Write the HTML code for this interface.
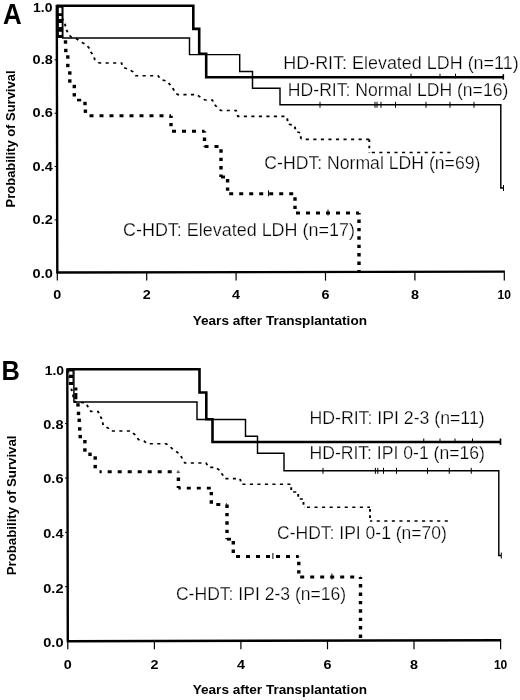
<!DOCTYPE html><html><head><meta charset="utf-8"><title>Survival curves</title><style>html,body{margin:0;padding:0;background:#fff;}svg{display:block;will-change:transform;}text{font-family:"Liberation Sans",sans-serif;fill:#000;}.b{font-weight:bold;}.r{stroke:#fff;stroke-width:0.25px;}</style></head><body><svg width="520" height="700" viewBox="0 0 520 700"><rect width="520" height="700" fill="#fff"/><path d="M56.8 4.7 L57.3 273.6 L57.3 272.5 L504.90000000000003 271.6" fill="none" stroke="#000" stroke-width="2.4" stroke-linejoin="miter"/><line x1="54.5" y1="59.8" x2="57.3" y2="59.8" stroke="#000" stroke-width="1"/><line x1="54.5" y1="113.2" x2="57.3" y2="113.2" stroke="#000" stroke-width="1"/><line x1="54.5" y1="166.5" x2="57.3" y2="166.5" stroke="#000" stroke-width="1"/><line x1="54.5" y1="219.9" x2="57.3" y2="219.9" stroke="#000" stroke-width="1"/><line x1="57.3" y1="272.3" x2="57.3" y2="280.6" stroke="#000" stroke-width="1.2"/><line x1="146.7" y1="272.3" x2="146.7" y2="280.6" stroke="#000" stroke-width="1.2"/><line x1="236.1" y1="272.3" x2="236.1" y2="280.6" stroke="#000" stroke-width="1.2"/><line x1="325.5" y1="272.3" x2="325.5" y2="280.6" stroke="#000" stroke-width="1.2"/><line x1="414.9" y1="272.3" x2="414.9" y2="280.6" stroke="#000" stroke-width="1.2"/><line x1="504.3" y1="272.3" x2="504.3" y2="280.6" stroke="#000" stroke-width="1.2"/><text class="b" x="52.4" y="11.5" font-size="12" text-anchor="end" textLength="19.4" lengthAdjust="spacingAndGlyphs">1.0</text><text class="b" x="52.8" y="64.1" font-size="12" text-anchor="end" textLength="20.2" lengthAdjust="spacingAndGlyphs">0.8</text><text class="b" x="52.8" y="117.4" font-size="12" text-anchor="end" textLength="20.2" lengthAdjust="spacingAndGlyphs">0.6</text><text class="b" x="52.8" y="170.7" font-size="12" text-anchor="end" textLength="20.2" lengthAdjust="spacingAndGlyphs">0.4</text><text class="b" x="52.8" y="224" font-size="12" text-anchor="end" textLength="20.2" lengthAdjust="spacingAndGlyphs">0.2</text><text class="b" x="52.8" y="277.7" font-size="12" text-anchor="end" textLength="20.2" lengthAdjust="spacingAndGlyphs">0.0</text><text class="b" x="57.3" y="299" font-size="12" text-anchor="middle" textLength="8" lengthAdjust="spacingAndGlyphs">0</text><text class="b" x="146.7" y="299" font-size="12" text-anchor="middle" textLength="8" lengthAdjust="spacingAndGlyphs">2</text><text class="b" x="236.1" y="299" font-size="12" text-anchor="middle" textLength="8" lengthAdjust="spacingAndGlyphs">4</text><text class="b" x="325.5" y="299" font-size="12" text-anchor="middle" textLength="8" lengthAdjust="spacingAndGlyphs">6</text><text class="b" x="414.9" y="299" font-size="12" text-anchor="middle" textLength="8" lengthAdjust="spacingAndGlyphs">8</text><text class="b" x="504.3" y="299" font-size="12" text-anchor="middle">10</text><text class="b" x="192.7" y="325" font-size="13.4" textLength="174.3" lengthAdjust="spacingAndGlyphs">Years after Transplantation</text><text class="b" transform="translate(14.8,207.4) rotate(-90)" x="0" y="0" font-size="13" textLength="136.9" lengthAdjust="spacingAndGlyphs">Probability of Survival</text><text class="b" transform="translate(3.0,23.6) scale(0.893,1)" font-size="29">A</text><path d="M67.3 368.3 L67.8 642.3 L67.8 641.2 L501.20000000000005 640.3" fill="none" stroke="#000" stroke-width="2.4" stroke-linejoin="miter"/><line x1="65.0" y1="423.6" x2="67.8" y2="423.6" stroke="#000" stroke-width="1"/><line x1="65.0" y1="478" x2="67.8" y2="478" stroke="#000" stroke-width="1"/><line x1="65.0" y1="532.3" x2="67.8" y2="532.3" stroke="#000" stroke-width="1"/><line x1="65.0" y1="586.7" x2="67.8" y2="586.7" stroke="#000" stroke-width="1"/><line x1="67.8" y1="641" x2="67.8" y2="649.3" stroke="#000" stroke-width="1.2"/><line x1="154.4" y1="641" x2="154.4" y2="649.3" stroke="#000" stroke-width="1.2"/><line x1="240.9" y1="641" x2="240.9" y2="649.3" stroke="#000" stroke-width="1.2"/><line x1="327.5" y1="641" x2="327.5" y2="649.3" stroke="#000" stroke-width="1.2"/><line x1="414.0" y1="641" x2="414.0" y2="649.3" stroke="#000" stroke-width="1.2"/><line x1="500.6" y1="641" x2="500.6" y2="649.3" stroke="#000" stroke-width="1.2"/><text class="b" x="64.1" y="374.8" font-size="12" text-anchor="end" textLength="19.4" lengthAdjust="spacingAndGlyphs">1.0</text><text class="b" x="63.5" y="428.75" font-size="12" text-anchor="end" textLength="20.2" lengthAdjust="spacingAndGlyphs">0.8</text><text class="b" x="63.5" y="483.4" font-size="12" text-anchor="end" textLength="20.2" lengthAdjust="spacingAndGlyphs">0.6</text><text class="b" x="63.5" y="538" font-size="12" text-anchor="end" textLength="20.2" lengthAdjust="spacingAndGlyphs">0.4</text><text class="b" x="63.5" y="592.6" font-size="12" text-anchor="end" textLength="20.2" lengthAdjust="spacingAndGlyphs">0.2</text><text class="b" x="63.5" y="647.2" font-size="12" text-anchor="end" textLength="20.2" lengthAdjust="spacingAndGlyphs">0.0</text><text class="b" x="67.8" y="668.8" font-size="12" text-anchor="middle" textLength="8" lengthAdjust="spacingAndGlyphs">0</text><text class="b" x="154.4" y="668.8" font-size="12" text-anchor="middle" textLength="8" lengthAdjust="spacingAndGlyphs">2</text><text class="b" x="240.9" y="668.8" font-size="12" text-anchor="middle" textLength="8" lengthAdjust="spacingAndGlyphs">4</text><text class="b" x="327.5" y="668.8" font-size="12" text-anchor="middle" textLength="8" lengthAdjust="spacingAndGlyphs">6</text><text class="b" x="414.0" y="668.8" font-size="12" text-anchor="middle" textLength="8" lengthAdjust="spacingAndGlyphs">8</text><text class="b" x="500.6" y="668.8" font-size="12" text-anchor="middle">10</text><text class="b" x="192.7" y="693.8" font-size="13.4" textLength="174.3" lengthAdjust="spacingAndGlyphs">Years after Transplantation</text><text class="b" transform="translate(16.1,575.3) rotate(-90)" x="0" y="0" font-size="13" textLength="139.8" lengthAdjust="spacingAndGlyphs">Probability of Survival</text><text class="b" transform="translate(1.4,380.4) scale(0.94,1)" font-size="27">B</text><polyline points="57.00,5.7 62.80,5.7 62.80,38 189.50,38 189.50,54.6 239.70,54.6 239.70,71.5 252.50,71.5 252.50,88.3 280.00,88.3 280.00,104.8 500.80,104.8 500.80,188 503.50,188" fill="none" stroke="#000" stroke-width="1.45"/><g transform="scale(1.2,1)"><polyline points="48.33,6 50.00,14 52.50,20 54.17,24 55.00,29 56.67,33 59.17,37 63.33,38.5 67.08,41.7 71.08,44.2 73.92,47.5 75.58,51.8 77.50,55 79.17,59.8 81.92,62.5 83.33,63 101.25,63 102.50,67.3 108.00,69.6 110.83,72 113.17,75.8 131.67,75.8 134.17,79.6 139.42,81.2 141.33,84.2 143.92,88 146.17,93 148.33,94.6 164.17,94.6 167.33,97.7 170.83,100 176.92,100 178.83,104.6 181.83,108.5 184.17,110.5 196.67,110.5 198.33,116.4 236.67,116.4 239.17,117 240.00,124 245.67,125.6 246.25,131.3 250.42,133 250.83,139.4 252.50,139.4" fill="none" stroke="#000" stroke-width="1.6" stroke-dasharray="2.6 3.65"/></g><line x1="301" y1="139.4" x2="369.3" y2="139.4" stroke="#000" stroke-width="1.6" stroke-dasharray="3.1 4.45" stroke-dashoffset="2.80"/><line x1="369.3" y1="139.4" x2="369.3" y2="152.5" stroke="#000" stroke-width="1.9" stroke-dasharray="2.6 3.65" stroke-dashoffset="0.00"/><line x1="369.3" y1="152.5" x2="451" y2="152.5" stroke="#000" stroke-width="1.6" stroke-dasharray="3.1 4.45" stroke-dashoffset="5.05"/><rect x="63.80" y="40.30" width="3.4" height="3.4" fill="#000"/><rect x="64.10" y="48.80" width="3.4" height="3.4" fill="#000"/><rect x="66.10" y="55.30" width="3.4" height="3.4" fill="#000"/><rect x="66.10" y="63.80" width="3.4" height="3.4" fill="#000"/><rect x="68.10" y="71.30" width="3.4" height="3.4" fill="#000"/><rect x="68.10" y="79.30" width="3.4" height="3.4" fill="#000"/><rect x="72.60" y="84.80" width="3.4" height="3.4" fill="#000"/><rect x="72.60" y="93.10" width="3.4" height="3.4" fill="#000"/><rect x="83.30" y="101.80" width="3.4" height="3.4" fill="#000"/><rect x="83.70" y="109.50" width="3.4" height="3.4" fill="#000"/><rect x="77" y="98.8" width="4.2" height="2.6" fill="#000"/><line x1="85" y1="115.7" x2="171" y2="115.7" stroke="#000" stroke-width="2.9" stroke-dasharray="4.0 6.0" stroke-dashoffset="5.50"/><line x1="171" y1="115.7" x2="171" y2="131.3" stroke="#000" stroke-width="3.4" stroke-dasharray="3.4 5.0" stroke-dashoffset="1.20"/><line x1="171" y1="131.3" x2="204.5" y2="131.3" stroke="#000" stroke-width="2.9" stroke-dasharray="4.0 6.0" stroke-dashoffset="9.00"/><line x1="204.5" y1="131.3" x2="204.5" y2="146.5" stroke="#000" stroke-width="3.4" stroke-dasharray="3.4 5.0" stroke-dashoffset="2.10"/><line x1="204.5" y1="146.5" x2="221" y2="146.5" stroke="#000" stroke-width="2.9" stroke-dasharray="4.0 6.0" stroke-dashoffset="0.00"/><line x1="221" y1="146.5" x2="221" y2="177" stroke="#000" stroke-width="3.4" stroke-dasharray="3.4 5.0" stroke-dashoffset="5.60"/><line x1="221" y1="177" x2="227.6" y2="177" stroke="#000" stroke-width="2.9" stroke-dasharray="4.0 6.0" stroke-dashoffset="0.00"/><line x1="227.6" y1="177" x2="227.6" y2="193.8" stroke="#000" stroke-width="3.4" stroke-dasharray="3.4 5.0" stroke-dashoffset="6.40"/><line x1="227.6" y1="193.8" x2="295" y2="193.8" stroke="#000" stroke-width="2.9" stroke-dasharray="4.0 6.0" stroke-dashoffset="8.40"/><line x1="295" y1="193.8" x2="295" y2="213" stroke="#000" stroke-width="3.4" stroke-dasharray="3.4 5.0" stroke-dashoffset="4.90"/><line x1="295" y1="213" x2="359" y2="213" stroke="#000" stroke-width="2.9" stroke-dasharray="4.0 6.0" stroke-dashoffset="9.00"/><line x1="359" y1="213" x2="359" y2="272" stroke="#000" stroke-width="3.4" stroke-dasharray="3.4 5.0" stroke-dashoffset="1.90"/><polyline points="57.00,5.7 193.30,5.7 193.30,28.9 199.20,28.9 199.20,53.8 206.20,53.8 206.20,77.2 504.00,77.2" fill="none" stroke="#000" stroke-width="2.6"/><polyline points="67.80,369.3 73.90,369.3 73.90,402 197.00,402 197.00,419.5 245.50,419.5 245.50,436.3 257.50,436.3 257.50,453.3 284.00,453.3 284.00,470.8 498.80,470.8 498.80,555.5 501.00,555.5" fill="none" stroke="#000" stroke-width="1.45"/><g transform="scale(1.2,1)"><polyline points="56.67,370 58.33,380 60.00,392 62.50,402 71.67,403 73.75,408 75.83,411.5 81.67,411.5 83.75,416.5 85.42,420.5 85.83,425 90.00,428 92.17,431 109.17,431 110.83,433 113.33,435.8 115.42,439.6 120.00,441 122.50,443.8 138.33,443.8 140.83,445.5 143.33,448.5 146.67,451.2 150.00,454.6 152.25,459.3 154.17,463 171.67,463 174.00,467.4 180.00,467.4 182.92,470.5 185.50,474.9 187.50,478.6 200.00,478.6 201.25,484.3 242.67,484.3 242.67,492 248.50,492 248.50,499 252.92,499 252.92,507.3 254.17,507.3" fill="none" stroke="#000" stroke-width="1.6" stroke-dasharray="2.6 3.65"/></g><line x1="303.5" y1="507.3" x2="370" y2="507.3" stroke="#000" stroke-width="1.6" stroke-dasharray="3.1 4.45" stroke-dashoffset="4.10"/><line x1="370" y1="507.3" x2="370" y2="521" stroke="#000" stroke-width="1.9" stroke-dasharray="2.6 3.65" stroke-dashoffset="4.45"/><line x1="370" y1="521" x2="447.9" y2="521" stroke="#000" stroke-width="1.6" stroke-dasharray="3.1 4.45" stroke-dashoffset="0.80"/><rect x="76.30" y="403.20" width="3.4" height="3.4" fill="#000"/><rect x="76.80" y="411.70" width="3.4" height="3.4" fill="#000"/><rect x="77.50" y="418.60" width="3.4" height="3.4" fill="#000"/><rect x="78.00" y="427.20" width="3.4" height="3.4" fill="#000"/><rect x="78.50" y="434.90" width="3.4" height="3.4" fill="#000"/><rect x="83.20" y="440.00" width="3.4" height="3.4" fill="#000"/><rect x="83.20" y="448.30" width="3.4" height="3.4" fill="#000"/><rect x="88.30" y="452.60" width="3.4" height="3.4" fill="#000"/><rect x="93.50" y="456.30" width="3.4" height="3.4" fill="#000"/><rect x="93.50" y="464.90" width="3.4" height="3.4" fill="#000"/><line x1="99.5" y1="471.8" x2="178.4" y2="471.8" stroke="#000" stroke-width="2.9" stroke-dasharray="4.0 6.0" stroke-dashoffset="1.80"/><line x1="178.4" y1="471.8" x2="178.4" y2="488.1" stroke="#000" stroke-width="3.4" stroke-dasharray="3.4 5.0" stroke-dashoffset="2.60"/><line x1="178.4" y1="488.1" x2="211.3" y2="488.1" stroke="#000" stroke-width="2.9" stroke-dasharray="4.0 6.0" stroke-dashoffset="1.60"/><line x1="211.3" y1="488.1" x2="211.3" y2="504.5" stroke="#000" stroke-width="3.4" stroke-dasharray="3.4 5.0" stroke-dashoffset="4.60"/><line x1="211.3" y1="504.5" x2="227" y2="504.5" stroke="#000" stroke-width="2.9" stroke-dasharray="4.0 6.0" stroke-dashoffset="5.00"/><line x1="227" y1="504.5" x2="227" y2="539.2" stroke="#000" stroke-width="3.4" stroke-dasharray="3.4 5.0" stroke-dashoffset="8.40"/><line x1="227" y1="539.2" x2="233.3" y2="539.2" stroke="#000" stroke-width="2.9" stroke-dasharray="4.0 6.0" stroke-dashoffset="0.00"/><line x1="233.3" y1="539.2" x2="233.3" y2="556.5" stroke="#000" stroke-width="3.4" stroke-dasharray="3.4 5.0" stroke-dashoffset="6.50"/><line x1="233.3" y1="556.5" x2="298.8" y2="556.5" stroke="#000" stroke-width="2.9" stroke-dasharray="4.0 6.0" stroke-dashoffset="7.30"/><line x1="298.8" y1="556.5" x2="298.8" y2="577" stroke="#000" stroke-width="3.4" stroke-dasharray="3.4 5.0" stroke-dashoffset="3.10"/><line x1="298.8" y1="577" x2="360.5" y2="577" stroke="#000" stroke-width="2.9" stroke-dasharray="4.0 6.0" stroke-dashoffset="8.60"/><line x1="360.5" y1="577" x2="360.5" y2="641" stroke="#000" stroke-width="3.4" stroke-dasharray="3.4 5.0" stroke-dashoffset="1.30"/><polyline points="67.80,369.3 199.50,369.3 199.50,392.5 206.30,392.5 206.30,419.3 212.50,419.3 212.50,442 501.00,442" fill="none" stroke="#000" stroke-width="2.6"/><path d="M58 6.5h5v31.5h-5z" fill="#000"/><path d="M58.8 7.8h2.7v5.5h-2.7z M58.9 16h2.6v3h-2.6z M58.9 23h2.8v4h-2.8z M58.9 31.7h2.8v3.3h-2.8z" fill="#fff"/><path d="M68.9 370h4.6v15h-4.6z M74.3 387.6h3.1v2.8h-3.1z M74.3 393h3.1v6.3h-3.1z" fill="#000"/><path d="M69.2 371.4h3.3v3.3h-3.3z M69.2 378h3.3v4h-3.3z" fill="#fff"/><line x1="320" y1="101.8" x2="320" y2="107.8" stroke="#000" stroke-width="1"/><line x1="375" y1="101.8" x2="375" y2="107.8" stroke="#000" stroke-width="1"/><line x1="377" y1="101.8" x2="377" y2="107.8" stroke="#000" stroke-width="1"/><line x1="381" y1="101.8" x2="381" y2="107.8" stroke="#000" stroke-width="1"/><line x1="395.5" y1="101.8" x2="395.5" y2="107.8" stroke="#000" stroke-width="1"/><line x1="426" y1="101.8" x2="426" y2="107.8" stroke="#000" stroke-width="1"/><line x1="450" y1="101.8" x2="450" y2="107.8" stroke="#000" stroke-width="1"/><line x1="474" y1="101.8" x2="474" y2="107.8" stroke="#000" stroke-width="1"/><line x1="503.5" y1="185" x2="503.5" y2="191" stroke="#000" stroke-width="1"/><line x1="503.3" y1="74.2" x2="503.3" y2="79.7" stroke="#000" stroke-width="1.6"/><line x1="500.5" y1="438.5" x2="500.5" y2="445" stroke="#000" stroke-width="1.6"/><line x1="501.3" y1="552.5" x2="501.3" y2="558.5" stroke="#000" stroke-width="1"/><line x1="411" y1="73.7" x2="411" y2="78.2" stroke="#000" stroke-width="1"/><line x1="440" y1="73.7" x2="440" y2="78.2" stroke="#000" stroke-width="1"/><line x1="455.5" y1="73.7" x2="455.5" y2="78.2" stroke="#000" stroke-width="1"/><line x1="268.5" y1="190.3" x2="268.5" y2="196.3" stroke="#000" stroke-width="1"/><line x1="328" y1="209.5" x2="328" y2="215.5" stroke="#000" stroke-width="1"/><line x1="323" y1="467.8" x2="323" y2="473.8" stroke="#000" stroke-width="1"/><line x1="375.4" y1="467.8" x2="375.4" y2="473.8" stroke="#000" stroke-width="1"/><line x1="377.8" y1="467.8" x2="377.8" y2="473.8" stroke="#000" stroke-width="1"/><line x1="383.5" y1="467.8" x2="383.5" y2="473.8" stroke="#000" stroke-width="1"/><line x1="396.5" y1="467.8" x2="396.5" y2="473.8" stroke="#000" stroke-width="1"/><line x1="427.5" y1="467.8" x2="427.5" y2="473.8" stroke="#000" stroke-width="1"/><line x1="449.25" y1="467.8" x2="449.25" y2="473.8" stroke="#000" stroke-width="1"/><line x1="471.25" y1="467.8" x2="471.25" y2="473.8" stroke="#000" stroke-width="1"/><line x1="423.75" y1="438.5" x2="423.75" y2="443" stroke="#000" stroke-width="1"/><line x1="440" y1="438.5" x2="440" y2="443" stroke="#000" stroke-width="1"/><line x1="455" y1="438.5" x2="455" y2="443" stroke="#000" stroke-width="1"/><line x1="472.5" y1="438.5" x2="472.5" y2="443" stroke="#000" stroke-width="1"/><line x1="272.9" y1="553.0" x2="272.9" y2="559.0" stroke="#000" stroke-width="1"/><line x1="331.9" y1="573.5" x2="331.9" y2="579.5" stroke="#000" stroke-width="1"/><text class="r" x="283.26" y="69" font-size="17.5" textLength="235.40" lengthAdjust="spacingAndGlyphs">HD-RIT: Elevated LDH (n=11)</text><text class="r" x="287.89" y="95.8" font-size="17.5" textLength="220.44" lengthAdjust="spacingAndGlyphs">HD-RIT: Normal LDH (n=16)</text><text class="r" x="264.34" y="168.8" font-size="17.5" textLength="216.04" lengthAdjust="spacingAndGlyphs">C-HDT: Normal LDH (n=69)</text><text class="r" x="123.03" y="236.3" font-size="17.5" textLength="231.87" lengthAdjust="spacingAndGlyphs">C-HDT: Elevated LDH (n=17)</text><text class="r" x="309.48" y="424.4" font-size="17.5" textLength="175.14" lengthAdjust="spacingAndGlyphs">HD-RIT: IPI 2-3 (n=11)</text><text class="r" x="309.49" y="459" font-size="17.5" textLength="175.39" lengthAdjust="spacingAndGlyphs">HD-RIT: IPI 0-1 (n=16)</text><text class="r" x="277.05" y="539" font-size="17.5" textLength="169.80" lengthAdjust="spacingAndGlyphs">C-HDT: IPI 0-1 (n=70)</text><text class="r" x="175.95" y="600.2" font-size="17.5" textLength="170.21" lengthAdjust="spacingAndGlyphs">C-HDT: IPI 2-3 (n=16)</text></svg></body></html>
